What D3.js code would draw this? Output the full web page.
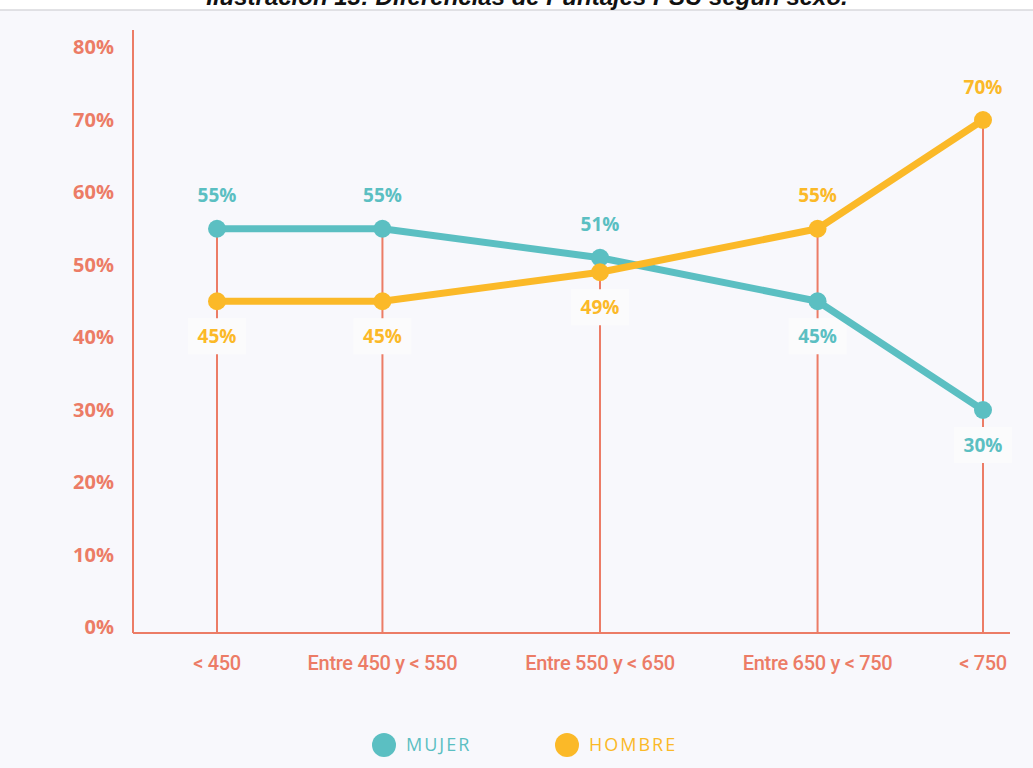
<!DOCTYPE html>
<html>
<head>
<meta charset="utf-8">
<script src="https://cdn.jsdelivr.net/npm/d3@7"></script>
<style>
  html, body { margin: 0; padding: 0; background: #ffffff; }
  svg { display: block; }
</style>
</head>
<body>
<svg id="chart" width="1033" height="768"></svg>
<script>
// Data
const categories = ["< 450", "Entre 450 y < 550", "Entre 550 y < 650", "Entre 650 y < 750", "< 750"];
const mujer = [55, 55, 51, 45, 30];
const hombre = [45, 45, 49, 55, 70];
const yTicks = [0, 10, 20, 30, 40, 50, 60, 70, 80];
const seriesNames = ["MUJER", "HOMBRE"];
const title = "Ilustración 13: Diferencias de Puntajes PSU según sexo.";

// Styles
const W = 1033, H = 768;
const bg = "#f8f8fc";
const axisColor = "#ec7c66";
const colors = { MUJER: "#5bbfc2", HOMBRE: "#fbb928" };
const numFont = "'Open Sans', sans-serif";
const catFont = "Roboto, sans-serif";

const svg = d3.select("#chart");

// page background and header rule
svg.append("rect").attr("x", 0).attr("y", 10).attr("width", W).attr("height", H - 10).attr("fill", bg);
svg.append("line").attr("x1", 0).attr("x2", W).attr("y1", 10).attr("y2", 10)
  .attr("stroke", "#d9d9dc").attr("stroke-width", 1.5);
svg.append("text")
  .attr("x", 527).attr("y", 5)
  .attr("text-anchor", "middle")
  .attr("font-family", "'Liberation Sans', Arial, sans-serif")
  .attr("font-weight", "bold").attr("font-style", "italic")
  .attr("font-size", 24).attr("fill", "#111")
  .text(title);

// Plot frame
const plotLeft = 133, plotRight = 1010, plotTop = 30, plotBottom = 633;
const firstCenter = 217, lastCenter = 983;

const y = d3.scaleLinear().domain([0, 80]).range([627.5, 47.5]);

// Category labels: measure, then space the columns by label width
const catG = svg.append("g");
const catLabels = catG.selectAll("text").data(categories).join("text")
  .attr("y", 670)
  .attr("text-anchor", "middle")
  .attr("font-family", catFont)
  .attr("font-weight", 500)
  .attr("font-size", 20)
  .attr("letter-spacing", "-0.3px")
  .attr("fill", axisColor)
  .text(d => d);
const widths = [];
catLabels.each(function () { widths.push(this.getComputedTextLength()); });
const pad = 63;
const offsets = [0];
for (let i = 1; i < categories.length; i++) {
  offsets.push(offsets[i - 1] + (widths[i - 1] + widths[i]) / 2 + pad);
}
const k = (lastCenter - firstCenter) / offsets[offsets.length - 1];
const x = d3.scaleOrdinal().domain(categories).range(offsets.map(o => firstCenter + o * k));
catLabels.attr("x", d => x(d));

// Axes
const yAxis = d3.axisLeft(y).tickValues(yTicks).tickSize(0).tickPadding(19)
  .tickFormat(d => d + "%");
const yg = svg.append("g").attr("transform", `translate(${plotLeft},0)`).call(yAxis);
yg.select(".domain").remove();
yg.selectAll("text")
  .attr("font-family", numFont).attr("font-weight", 700).attr("font-size", 20)
  .attr("fill", axisColor);

svg.append("line").attr("x1", plotLeft).attr("x2", plotLeft)
  .attr("y1", plotTop).attr("y2", plotBottom)
  .attr("stroke", axisColor).attr("stroke-width", 2);
svg.append("line").attr("x1", plotLeft).attr("x2", plotRight)
  .attr("y1", plotBottom).attr("y2", plotBottom)
  .attr("stroke", axisColor).attr("stroke-width", 2);

// Drop lines from the upper point of each column down to the axis
const rows = categories.map((c, i) => ({ c, m: mujer[i], h: hombre[i] }));
svg.append("g").selectAll("line").data(rows).join("line")
  .attr("x1", d => x(d.c)).attr("x2", d => x(d.c))
  .attr("y1", d => y(Math.max(d.m, d.h))).attr("y2", plotBottom)
  .attr("stroke", axisColor).attr("stroke-width", 2);

// Value label positions: above the upper point, below the lower point
const labelData = [];
categories.forEach((c, i) => {
  const mUp = mujer[i] >= hombre[i];
  labelData.push({ c, v: mujer[i], name: "MUJER", above: mUp });
  labelData.push({ c, v: hombre[i], name: "HOMBRE", above: !mUp });
});
const labelPos = d => `translate(${x(d.c)},${y(d.v) + (d.above ? -33 : 35)})`;

// Label backdrops sit over the drop lines but under the series
svg.append("g").selectAll("rect").data(labelData.filter(d => !d.above)).join("rect")
  .attr("transform", labelPos)
  .attr("x", -29).attr("y", -18).attr("width", 58).attr("height", 36)
  .attr("fill", "#fbfbfc");

// Series lines and points
const series = [
  { name: "MUJER", values: mujer },
  { name: "HOMBRE", values: hombre }
];
const line = d3.line().x(d => x(d.c)).y(d => y(d.v));
series.forEach(s => {
  const pts = categories.map((c, i) => ({ c, v: s.values[i] }));
  svg.append("path").datum(pts)
    .attr("d", line).attr("fill", "none")
    .attr("stroke", colors[s.name]).attr("stroke-width", 7)
    .attr("stroke-linejoin", "round");
});
series.forEach(s => {
  const pts = categories.map((c, i) => ({ c, v: s.values[i] }));
  svg.append("g").selectAll("circle").data(pts).join("circle")
    .attr("cx", d => x(d.c)).attr("cy", d => y(d.v)).attr("r", 9)
    .attr("fill", colors[s.name]);
});

// Value labels
svg.append("g").selectAll("text").data(labelData).join("text")
  .attr("transform", labelPos)
  .attr("text-anchor", "middle").attr("dy", "0.35em")
  .attr("font-family", numFont).attr("font-weight", 700).attr("font-size", 19)
  .attr("fill", d => colors[d.name])
  .text(d => d.v + "%");

// Legend
const legendX = d3.scaleOrdinal().domain(seriesNames).range([384, 567]);
const leg = svg.append("g").selectAll("g").data(seriesNames).join("g")
  .attr("transform", d => `translate(${legendX(d)},745)`);
leg.append("circle").attr("r", 12).attr("fill", d => colors[d]);
leg.append("text")
  .attr("x", 22).attr("dy", "0.35em")
  .attr("font-family", "'Open Sans', sans-serif").attr("font-size", 18)
  .attr("letter-spacing", "2px")
  .attr("fill", d => colors[d])
  .text(d => d);
</script>
</body>
</html>
